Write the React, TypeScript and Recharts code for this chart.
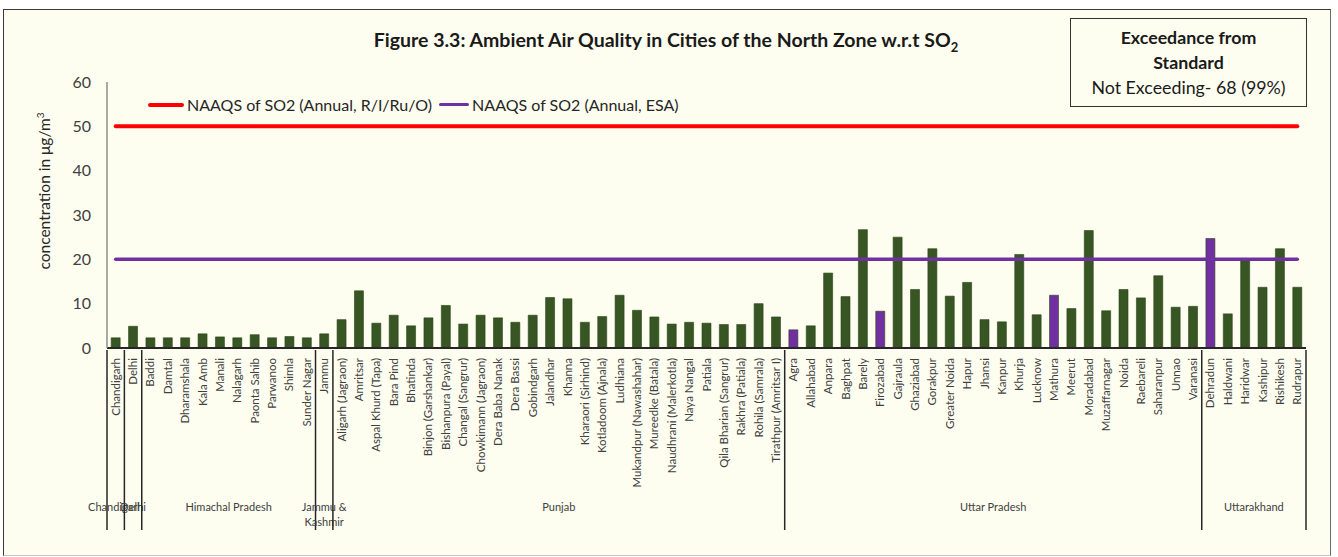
import { Bar, Cell, ComposedChart, Line, XAxis, YAxis } from "recharts";

const cities = [
  "Chandigarh",
  "Delhi",
  "Baddi", "Damtal", "Dharamshala", "Kala Amb", "Manali", "Nalagarh", "Paonta Sahib", "Parwanoo", "Shimla", "Sunder Nagar",
  "Jammu",
  "Aligarh (Jagraon)", "Amritsar", "Aspal Khurd (Tapa)", "Bara Pind", "Bhatinda", "Binjon (Garshankar)", "Bishanpura (Payal)",
  "Changal (Sangrur)", "Chowkimann (Jagraon)", "Dera Baba Nanak", "Dera Bassi", "Gobindgarh", "Jalandhar", "Khanna",
  "Kharaori (Sirhind)", "Kotladoom (Ajnala)", "Ludhiana", "Mukandpur (Nawashahar)", "Mureedke (Batala)",
  "Naudhrani (Malerkotla)", "Naya Nangal", "Patiala", "Qila Bharian (Sangrur)", "Rakhra (Patiala)", "Rohila (Samrala)",
  "Tirathpur (Amritsar I)",
  "Agra", "Allahabad", "Anpara", "Baghpat", "Barely", "Firozabad", "Gajraula", "Ghaziabad", "Gorakpur", "Greater Noida",
  "Hapur", "Jhansi", "Kanpur", "Khurja", "Lucknow", "Mathura", "Meerut", "Moradabad", "Muzaffarnagar", "Noida",
  "Raebareli", "Saharanpur", "Unnao", "Varanasi",
  "Dehradun", "Haldwani", "Haridwar", "Kashipur", "Rishikesh", "Rudrapur",
];

const so2 = [
  2.3,
  4.9,
  2.3, 2.3, 2.3, 3.2, 2.5, 2.3, 3.0, 2.3, 2.6, 2.3,
  3.2,
  6.4, 12.9, 5.6, 7.4, 5.0, 6.8, 9.6, 5.4, 7.4, 6.8, 5.8, 7.4, 11.4, 11.1, 5.8, 7.1, 11.9, 8.5, 7.0, 5.4, 5.8, 5.6,
  5.3, 5.3, 10.0, 7.0,
  4.1, 5.0, 16.9, 11.6, 26.7, 8.3, 25.0, 13.2, 22.4, 11.7, 14.8, 6.4, 5.9, 21.1, 7.5, 11.9, 8.9, 26.5, 8.4, 13.2,
  11.3, 16.3, 9.2, 9.4,
  24.7, 7.7, 19.7, 13.7, 22.4, 13.7,
];

const esaCities = ["Agra", "Firozabad", "Mathura", "Dehradun"];

const stateNames = ["Chandigarh", "Delhi", "Himachal Pradesh", "Jammu & Kashmir", "Punjab", "Uttar Pradesh", "Uttarakhand"];
const stateCounts = [1, 1, 10, 1, 26, 24, 6];

const yTicks = [0, 10, 20, 30, 40, 50, 60];
const naaqsGeneral = 50;
const naaqsEsa = 20;

const GREEN = "#375623";
const PURPLE = "#7030A0";
const RED = "#FF0000";
const BG = "#FEFEF0";
const FONT = "Lato, 'Open Sans', sans-serif";

const W = 1338;
const H = 557;
const PLOT_LEFT = 107;
const PLOT_RIGHT = 1306;
const BAND = (PLOT_RIGHT - PLOT_LEFT) / cities.length;

const data = cities.map((city, i) => ({
  city,
  so2: so2[i],
  general: naaqsGeneral,
  esa: naaqsEsa,
}));

// index of first city in each state
const groupStarts: number[] = [];
stateCounts.reduce((acc, n) => {
  groupStarts.push(acc);
  return acc + n;
}, 0);

function CityTick(props: any) {
  const { x, y, payload } = props;
  const i: number = payload.index;
  const g = groupStarts.indexOf(i);
  const isLast = i === cities.length - 1;
  const sepBottom = y + 180;
  let groupLabel = null;
  if (g >= 0) {
    const cx = x + ((stateCounts[g] - 1) / 2) * BAND;
    const name = stateNames[g];
    const lines = name === "Jammu & Kashmir" ? ["Jammu &", "Kashmir"] : [name];
    groupLabel = (
      <text x={cx} y={y + 161} textAnchor="middle" fontSize={11} fill="#404040" fontFamily={FONT}>
        {lines.map((l, k) => (
          <tspan key={k} x={cx} dy={k === 0 ? 0 : 15}>
            {l}
          </tspan>
        ))}
      </text>
    );
  }
  return (
    <g>
      <text
        x={x}
        y={y + 8}
        transform={`rotate(-90, ${x}, ${y + 8})`}
        textAnchor="end"
        dy="0.35em"
        fontSize={11.5}
        fill="#404040"
        fontFamily={FONT}
      >
        {payload.value}
      </text>
      {g >= 0 && (
        <line x1={x - BAND / 2} x2={x - BAND / 2} y1={y} y2={sepBottom} stroke="#262626" strokeWidth={1.5} />
      )}
      {isLast && (
        <line x1={x + BAND / 2} x2={x + BAND / 2} y1={y} y2={sepBottom} stroke="#262626" strokeWidth={1.5} />
      )}
      {groupLabel}
    </g>
  );
}

function YLabel() {
  const cx = 45;
  const cy = 191;
  return (
    <text
      x={cx}
      y={cy}
      transform={`rotate(-90, ${cx}, ${cy})`}
      textAnchor="middle"
      dy="0.35em"
      fontSize={15.5}
      fill="#262626"
      fontFamily={FONT}
    >
      concentration in μg/m
      <tspan dy={-6} fontSize={10}>
        3
      </tspan>
    </text>
  );
}

export default function App() {
  return (
    <div style={{ position: "absolute", left: 0, top: 0, width: W, height: H, background: "#fff", fontFamily: FONT }}>
      <div
        style={{
          position: "absolute",
          left: 3,
          top: 9,
          width: 1326,
          height: 545,
          background: BG,
          borderTop: "1.5px solid #3a3a3a",
          borderLeft: "1.5px solid #3a3a3a",
          borderRight: "1.5px solid #6a6a6a",
          borderBottom: "1px solid #c4c4c4",
        }}
      />
      <div style={{ position: "absolute", left: 0, top: 0 }}>
        <ComposedChart
          width={W}
          height={H}
          data={data}
          margin={{ top: 82, right: W - PLOT_RIGHT, bottom: 29, left: 0 }}
          barCategoryGap="24%"
        >
          <XAxis
            dataKey="city"
            interval={0}
            height={180}
            tickLine={false}
            tickSize={0}
            axisLine={{ stroke: "#262626", strokeWidth: 2 }}
            tick={<CityTick />}
          />
          <YAxis
            width={PLOT_LEFT}
            domain={[0, 60]}
            ticks={yTicks}
            tickLine={false}
            tickSize={0}
            tickMargin={16}
            axisLine={{ stroke: "#8c8c8c", strokeWidth: 1.5 }}
            tick={{ fontSize: 16, fill: "#404040", fontFamily: FONT }}
            label={<YLabel />}
          />
          <Bar dataKey="so2" isAnimationActive={false} stroke="#2b431b" strokeWidth={0.6}>
            {data.map((d) => (
              <Cell key={d.city} fill={esaCities.includes(d.city) ? PURPLE : GREEN} />
            ))}
          </Bar>
          <Line
            dataKey="general"
            stroke={RED}
            strokeWidth={4}
            strokeLinecap="round"
            dot={false}
            activeDot={false}
            isAnimationActive={false}
          />
          <Line
            dataKey="esa"
            stroke={PURPLE}
            strokeWidth={3.5}
            strokeLinecap="round"
            dot={false}
            activeDot={false}
            isAnimationActive={false}
          />
        </ComposedChart>
      </div>

      <div
        style={{
          position: "absolute",
          left: 0,
          width: 1332,
          top: 28,
          textAlign: "center",
          fontWeight: 700,
          fontSize: 19.5,
          color: "#1a1a1a",
          whiteSpace: "nowrap",
        }}
      >
        Figure 3.3: Ambient Air Quality in Cities of the North Zone w.r.t SO
        <sub style={{ fontSize: 13 }}>2</sub>
      </div>

      <div
        style={{
          position: "absolute",
          left: 148,
          top: 95,
          display: "flex",
          alignItems: "center",
          fontSize: 16,
          color: "#262626",
          whiteSpace: "nowrap",
        }}
      >
        <span style={{ width: 36, height: 4, background: RED, borderRadius: 2, marginRight: 3 }} />
        <span>NAAQS of SO2 (Annual, R/I/Ru/O)</span>
        <span style={{ width: 30, height: 3.5, background: PURPLE, borderRadius: 2, marginLeft: 7, marginRight: 3 }} />
        <span>NAAQS of SO2 (Annual, ESA)</span>
      </div>

      <div
        style={{
          position: "absolute",
          left: 1070,
          top: 18,
          width: 237,
          height: 89,
          border: "1.5px solid #333",
          background: BG,
          textAlign: "center",
          fontSize: 17.8,
          lineHeight: "25px",
          color: "#1a1a1a",
          paddingTop: 6,
          boxSizing: "border-box",
          whiteSpace: "nowrap",
        }}
      >
        <div style={{ fontWeight: 700 }}>Exceedance from</div>
        <div style={{ fontWeight: 700 }}>Standard</div>
        <div>Not Exceeding- 68 (99%)</div>
      </div>
    </div>
  );
}
